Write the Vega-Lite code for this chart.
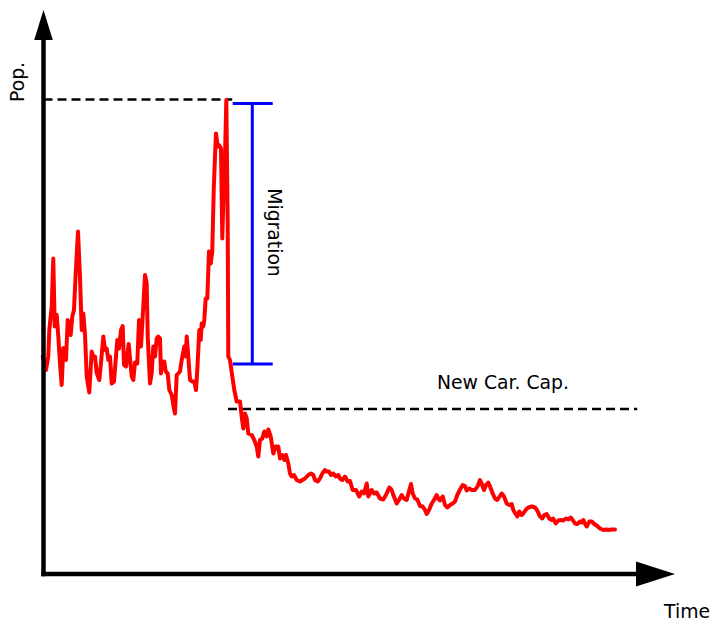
{
  "$schema": "https://vega.github.io/schema/vega-lite/v6.json",
  "width": 714,
  "height": 623,
  "padding": 0,
  "autosize": {"type": "fit", "contains": "padding"},
  "config": {"view": {"stroke": null}, "text": {"font": "DejaVu Sans", "fontSize": 18.8, "color": "#000000"}},
  "datasets": {
    "pop": [
      {"Time": 0.12, "Pop": 43.5}, {"Time": 0.67, "Pop": 40.8}, {"Time": 1.05, "Pop": 43.5}, {"Time": 1.22, "Pop": 48.8},
      {"Time": 1.62, "Pop": 53.5}, {"Time": 1.88, "Pop": 63.1}, {"Time": 2.12, "Pop": 49.5}, {"Time": 2.45, "Pop": 51.8},
      {"Time": 2.72, "Pop": 47.5}, {"Time": 3.0, "Pop": 42.2}, {"Time": 3.28, "Pop": 37.8}, {"Time": 3.55, "Pop": 45.2},
      {"Time": 3.83, "Pop": 44.5}, {"Time": 4.0, "Pop": 42.8}, {"Time": 4.28, "Pop": 50.8}, {"Time": 4.78, "Pop": 47.8},
      {"Time": 5.05, "Pop": 51.5}, {"Time": 5.33, "Pop": 52.8}, {"Time": 5.62, "Pop": 60.2}, {"Time": 6.0, "Pop": 68.5},
      {"Time": 6.33, "Pop": 59.5}, {"Time": 6.62, "Pop": 48.8}, {"Time": 6.88, "Pop": 52.1}, {"Time": 7.17, "Pop": 47.8},
      {"Time": 7.45, "Pop": 39.5}, {"Time": 7.88, "Pop": 36.3}, {"Time": 8.28, "Pop": 44.5}, {"Time": 8.55, "Pop": 43.5},
      {"Time": 8.83, "Pop": 43.5}, {"Time": 9.12, "Pop": 40.2}, {"Time": 9.55, "Pop": 38.8}, {"Time": 9.83, "Pop": 42.2},
      {"Time": 10.22, "Pop": 47.5}, {"Time": 10.5, "Pop": 44.8}, {"Time": 10.78, "Pop": 45.1}, {"Time": 11.05, "Pop": 42.8},
      {"Time": 11.33, "Pop": 43.5}, {"Time": 11.62, "Pop": 38.1}, {"Time": 12.0, "Pop": 38.5}, {"Time": 12.33, "Pop": 43.5},
      {"Time": 12.55, "Pop": 46.8}, {"Time": 12.83, "Pop": 45.1}, {"Time": 13.17, "Pop": 48.8}, {"Time": 13.45, "Pop": 49.6},
      {"Time": 13.67, "Pop": 41.8}, {"Time": 14.0, "Pop": 41.5}, {"Time": 14.45, "Pop": 46.0}, {"Time": 14.67, "Pop": 43.1},
      {"Time": 14.95, "Pop": 39.5}, {"Time": 15.22, "Pop": 38.8}, {"Time": 15.5, "Pop": 42.3}, {"Time": 15.88, "Pop": 42.1},
      {"Time": 16.17, "Pop": 50.8}, {"Time": 16.5, "Pop": 45.5}, {"Time": 16.72, "Pop": 50.1}, {"Time": 17.17, "Pop": 59.8},
      {"Time": 17.45, "Pop": 58.1}, {"Time": 17.62, "Pop": 47.5}, {"Time": 18.0, "Pop": 38.1}, {"Time": 18.28, "Pop": 40.1},
      {"Time": 18.55, "Pop": 45.5}, {"Time": 18.83, "Pop": 43.5}, {"Time": 19.12, "Pop": 47.1}, {"Time": 19.38, "Pop": 47.5},
      {"Time": 19.67, "Pop": 47.1}, {"Time": 19.83, "Pop": 40.1}, {"Time": 20.05, "Pop": 42.5}, {"Time": 20.38, "Pop": 42.5},
      {"Time": 20.62, "Pop": 40.5}, {"Time": 20.95, "Pop": 40.1}, {"Time": 21.22, "Pop": 36.8}, {"Time": 21.62, "Pop": 35.8},
      {"Time": 21.88, "Pop": 33.8}, {"Time": 22.17, "Pop": 32.1}, {"Time": 22.45, "Pop": 39.8}, {"Time": 23.0, "Pop": 40.5},
      {"Time": 23.28, "Pop": 42.8}, {"Time": 23.72, "Pop": 45.5}, {"Time": 23.95, "Pop": 43.5}, {"Time": 24.12, "Pop": 47.5},
      {"Time": 24.38, "Pop": 43.5}, {"Time": 24.67, "Pop": 38.8}, {"Time": 25.05, "Pop": 38.5}, {"Time": 25.38, "Pop": 38.5},
      {"Time": 25.67, "Pop": 36.8}, {"Time": 25.88, "Pop": 40.8}, {"Time": 26.22, "Pop": 48.8}, {"Time": 26.45, "Pop": 46.8},
      {"Time": 26.62, "Pop": 50.1}, {"Time": 26.88, "Pop": 49.5}, {"Time": 27.05, "Pop": 50.8}, {"Time": 27.28, "Pop": 55.1},
      {"Time": 27.55, "Pop": 55.1}, {"Time": 27.83, "Pop": 64.5}, {"Time": 28.12, "Pop": 62.1}, {"Time": 28.38, "Pop": 64.5},
      {"Time": 28.62, "Pop": 76.8}, {"Time": 28.83, "Pop": 83.5}, {"Time": 29.0, "Pop": 88.1}, {"Time": 29.28, "Pop": 85.5},
      {"Time": 29.5, "Pop": 85.8}, {"Time": 29.83, "Pop": 85.1}, {"Time": 30.05, "Pop": 67.1}, {"Time": 30.28, "Pop": 76.8},
      {"Time": 30.5, "Pop": 83.5}, {"Time": 30.72, "Pop": 94.8}, {"Time": 30.95, "Pop": 70.1}, {"Time": 31.05, "Pop": 43.5},
      {"Time": 31.33, "Pop": 42.8}, {"Time": 31.72, "Pop": 39.5}, {"Time": 32.05, "Pop": 36.8}, {"Time": 32.45, "Pop": 34.5},
      {"Time": 33.0, "Pop": 34.5}, {"Time": 33.28, "Pop": 31.5}, {"Time": 33.55, "Pop": 29.1}, {"Time": 33.83, "Pop": 32.1},
      {"Time": 34.12, "Pop": 31.1}, {"Time": 34.38, "Pop": 28.1}, {"Time": 34.95, "Pop": 27.8}, {"Time": 35.38, "Pop": 26.8},
      {"Time": 35.78, "Pop": 25.5}, {"Time": 36.05, "Pop": 23.5}, {"Time": 36.33, "Pop": 26.8}, {"Time": 36.72, "Pop": 27.1},
      {"Time": 37.05, "Pop": 28.5}, {"Time": 37.45, "Pop": 27.5}, {"Time": 37.72, "Pop": 28.9}, {"Time": 38.12, "Pop": 27.5},
      {"Time": 38.55, "Pop": 24.1}, {"Time": 38.95, "Pop": 25.5}, {"Time": 39.38, "Pop": 25.5}, {"Time": 39.67, "Pop": 23.1},
      {"Time": 40.05, "Pop": 23.8}, {"Time": 40.38, "Pop": 22.8}, {"Time": 40.67, "Pop": 23.8}, {"Time": 41.05, "Pop": 22.1},
      {"Time": 41.33, "Pop": 20.1}, {"Time": 41.62, "Pop": 19.5}, {"Time": 42.0, "Pop": 19.8}, {"Time": 42.45, "Pop": 18.8},
      {"Time": 43.0, "Pop": 18.5}, {"Time": 43.38, "Pop": 18.8}, {"Time": 43.83, "Pop": 19.1}, {"Time": 44.38, "Pop": 19.8},
      {"Time": 44.83, "Pop": 20.1}, {"Time": 45.22, "Pop": 19.8}, {"Time": 45.5, "Pop": 18.8}, {"Time": 45.95, "Pop": 18.5},
      {"Time": 46.33, "Pop": 19.1}, {"Time": 46.72, "Pop": 20.1}, {"Time": 47.17, "Pop": 20.8}, {"Time": 47.45, "Pop": 20.5},
      {"Time": 47.83, "Pop": 20.5}, {"Time": 48.17, "Pop": 19.8}, {"Time": 48.55, "Pop": 20.1}, {"Time": 48.95, "Pop": 19.5},
      {"Time": 49.38, "Pop": 19.8}, {"Time": 49.67, "Pop": 19.1}, {"Time": 50.05, "Pop": 18.8}, {"Time": 50.5, "Pop": 19.5},
      {"Time": 50.95, "Pop": 18.5}, {"Time": 51.33, "Pop": 18.6}, {"Time": 51.78, "Pop": 16.8}, {"Time": 52.33, "Pop": 16.8},
      {"Time": 52.88, "Pop": 15.5}, {"Time": 53.28, "Pop": 16.5}, {"Time": 53.67, "Pop": 16.1}, {"Time": 54.12, "Pop": 18.1},
      {"Time": 54.38, "Pop": 15.5}, {"Time": 54.95, "Pop": 16.8}, {"Time": 55.33, "Pop": 16.1}, {"Time": 55.78, "Pop": 16.3},
      {"Time": 56.33, "Pop": 15.1}, {"Time": 56.88, "Pop": 14.9}, {"Time": 57.33, "Pop": 15.8}, {"Time": 57.88, "Pop": 17.3},
      {"Time": 58.28, "Pop": 16.8}, {"Time": 58.55, "Pop": 15.8}, {"Time": 59.12, "Pop": 14.1}, {"Time": 59.55, "Pop": 14.9},
      {"Time": 59.95, "Pop": 15.8}, {"Time": 60.33, "Pop": 15.1}, {"Time": 60.78, "Pop": 14.8}, {"Time": 61.22, "Pop": 16.8},
      {"Time": 61.5, "Pop": 18.0}, {"Time": 61.78, "Pop": 16.1}, {"Time": 62.17, "Pop": 15.1}, {"Time": 62.55, "Pop": 14.9},
      {"Time": 63.0, "Pop": 13.6}, {"Time": 63.45, "Pop": 13.5}, {"Time": 63.83, "Pop": 12.8}, {"Time": 64.12, "Pop": 12.0},
      {"Time": 64.55, "Pop": 12.9}, {"Time": 64.95, "Pop": 14.1}, {"Time": 65.33, "Pop": 14.8}, {"Time": 65.78, "Pop": 15.8},
      {"Time": 66.05, "Pop": 15.1}, {"Time": 66.33, "Pop": 14.7}, {"Time": 66.78, "Pop": 15.5}, {"Time": 67.17, "Pop": 13.8},
      {"Time": 67.55, "Pop": 13.3}, {"Time": 68.0, "Pop": 13.8}, {"Time": 68.45, "Pop": 14.1}, {"Time": 68.83, "Pop": 14.5},
      {"Time": 69.22, "Pop": 15.8}, {"Time": 69.67, "Pop": 16.9}, {"Time": 70.12, "Pop": 17.8}, {"Time": 70.5, "Pop": 17.6},
      {"Time": 70.78, "Pop": 16.7}, {"Time": 71.22, "Pop": 17.1}, {"Time": 71.62, "Pop": 16.8}, {"Time": 72.17, "Pop": 16.8},
      {"Time": 72.62, "Pop": 17.6}, {"Time": 73.0, "Pop": 18.8}, {"Time": 73.28, "Pop": 18.1}, {"Time": 73.67, "Pop": 16.8},
      {"Time": 74.0, "Pop": 17.8}, {"Time": 74.38, "Pop": 18.3}, {"Time": 74.67, "Pop": 17.5}, {"Time": 75.12, "Pop": 16.1},
      {"Time": 75.5, "Pop": 15.1}, {"Time": 75.88, "Pop": 14.8}, {"Time": 76.33, "Pop": 15.6}, {"Time": 76.62, "Pop": 16.1},
      {"Time": 77.0, "Pop": 15.5}, {"Time": 77.45, "Pop": 14.1}, {"Time": 77.88, "Pop": 13.8}, {"Time": 78.28, "Pop": 14.0},
      {"Time": 78.55, "Pop": 12.8}, {"Time": 78.95, "Pop": 12.0}, {"Time": 79.22, "Pop": 11.5}, {"Time": 79.55, "Pop": 12.5},
      {"Time": 79.95, "Pop": 11.8}, {"Time": 80.22, "Pop": 12.1}, {"Time": 80.67, "Pop": 12.9}, {"Time": 81.05, "Pop": 13.3},
      {"Time": 81.62, "Pop": 13.5}, {"Time": 82.17, "Pop": 13.3}, {"Time": 82.55, "Pop": 12.7}, {"Time": 83.0, "Pop": 11.5},
      {"Time": 83.38, "Pop": 11.1}, {"Time": 83.72, "Pop": 11.8}, {"Time": 84.12, "Pop": 12.0}, {"Time": 84.55, "Pop": 11.1},
      {"Time": 84.95, "Pop": 10.8}, {"Time": 85.22, "Pop": 11.1}, {"Time": 85.62, "Pop": 10.1}, {"Time": 86.05, "Pop": 10.7},
      {"Time": 86.5, "Pop": 10.8}, {"Time": 86.88, "Pop": 10.7}, {"Time": 87.33, "Pop": 11.1}, {"Time": 87.72, "Pop": 10.9},
      {"Time": 88.12, "Pop": 11.3}, {"Time": 88.45, "Pop": 10.8}, {"Time": 88.83, "Pop": 10.1}, {"Time": 89.22, "Pop": 10.0},
      {"Time": 89.67, "Pop": 10.5}, {"Time": 89.95, "Pop": 10.3}, {"Time": 90.22, "Pop": 10.8}, {"Time": 90.5, "Pop": 10.0},
      {"Time": 90.78, "Pop": 9.5}, {"Time": 91.22, "Pop": 10.5}, {"Time": 91.62, "Pop": 10.5}, {"Time": 92.05, "Pop": 10.0},
      {"Time": 92.55, "Pop": 9.6}, {"Time": 93.0, "Pop": 9.1}, {"Time": 93.55, "Pop": 8.8}, {"Time": 94.0, "Pop": 8.9},
      {"Time": 94.38, "Pop": 8.8}, {"Time": 94.95, "Pop": 8.9}, {"Time": 95.5, "Pop": 8.9}
    ],
    "axes": [
      {"x0": 0.25, "x1": 0.25, "y0": -0.45, "y1": 107.0},
      {"x0": -0.1, "x1": 99.5, "y0": 0, "y1": 0}
    ],
    "levels": [
      {"x0": 0.25, "x1": 31.7, "y": 94.9},
      {"x0": 31.0, "x1": 99.2, "y": 33.0}
    ],
    "migration_span": [{"x": 35.05, "y0": 42.0, "y1": 94.1}],
    "migration_caps": [
      {"x0": 31.78, "x1": 38.45, "y": 94.1},
      {"x0": 31.78, "x1": 38.45, "y": 42.0}
    ],
    "arrow_x": [{"x": 102.25, "y": 0}],
    "arrow_y": [{"x": 0.25, "y": 109.8}],
    "label_h": [
      {"x": 107.5, "y": -8.8, "label": "Time"},
      {"x": 76.83, "y": 37.0, "label": "New Car. Cap."}
    ],
    "label_pop": [{"x": -3.92, "y": 98.4, "label": "Pop."}],
    "label_mig": [{"x": 38.67, "y": 68.3, "label": "Migration"}]
  },
  "layer": [
    {
      "data": {"name": "levels"},
      "mark": {"type": "rule", "color": "#000000", "strokeWidth": 2.5, "strokeDash": [9, 5]},
      "encoding": {
        "x": {"field": "x0", "type": "quantitative", "scale": {"domain": [-7, 112], "nice": false, "zero": false}, "axis": null},
        "x2": {"field": "x1"},
        "y": {"field": "y", "type": "quantitative", "scale": {"domain": [-9.8, 114.8], "nice": false, "zero": false}, "axis": null}
      }
    },
    {
      "data": {"name": "pop"},
      "mark": {"type": "line", "color": "#ff0000", "strokeWidth": 4, "strokeJoin": "round", "strokeCap": "round"},
      "encoding": {
        "x": {"field": "Time", "type": "quantitative", "axis": null},
        "y": {"field": "Pop", "type": "quantitative", "axis": null}
      }
    },
    {
      "data": {"name": "migration_span"},
      "mark": {"type": "rule", "color": "#0000ff", "strokeWidth": 3},
      "encoding": {
        "x": {"field": "x", "type": "quantitative", "axis": null},
        "y": {"field": "y0", "type": "quantitative", "axis": null},
        "y2": {"field": "y1"}
      }
    },
    {
      "data": {"name": "migration_caps"},
      "mark": {"type": "rule", "color": "#0000ff", "strokeWidth": 3},
      "encoding": {
        "x": {"field": "x0", "type": "quantitative", "axis": null},
        "x2": {"field": "x1"},
        "y": {"field": "y", "type": "quantitative", "axis": null}
      }
    },
    {
      "data": {"name": "axes"},
      "mark": {"type": "rule", "color": "#000000", "strokeWidth": 4.5},
      "encoding": {
        "x": {"field": "x0", "type": "quantitative", "axis": null},
        "x2": {"field": "x1"},
        "y": {"field": "y0", "type": "quantitative", "axis": null},
        "y2": {"field": "y1"}
      }
    },
    {
      "data": {"name": "arrow_x"},
      "mark": {"type": "point", "shape": "M-1,-0.64L1,0L-1,0.64Z", "size": 1521, "filled": true, "color": "#000000", "opacity": 1},
      "encoding": {
        "x": {"field": "x", "type": "quantitative", "axis": null},
        "y": {"field": "y", "type": "quantitative", "axis": null}
      }
    },
    {
      "data": {"name": "arrow_y"},
      "mark": {"type": "point", "shape": "M-0.62,1L0,-1L0.62,1Z", "size": 900, "filled": true, "color": "#000000", "opacity": 1},
      "encoding": {
        "x": {"field": "x", "type": "quantitative", "axis": null},
        "y": {"field": "y", "type": "quantitative", "axis": null}
      }
    },
    {
      "data": {"name": "label_h"},
      "mark": {"type": "text", "align": "center", "baseline": "alphabetic"},
      "encoding": {
        "x": {"field": "x", "type": "quantitative", "axis": null},
        "y": {"field": "y", "type": "quantitative", "axis": null},
        "text": {"field": "label"}
      }
    },
    {
      "data": {"name": "label_pop"},
      "mark": {"type": "text", "align": "center", "baseline": "middle", "angle": 270},
      "encoding": {
        "x": {"field": "x", "type": "quantitative", "axis": null},
        "y": {"field": "y", "type": "quantitative", "axis": null},
        "text": {"field": "label"}
      }
    },
    {
      "data": {"name": "label_mig"},
      "mark": {"type": "text", "align": "center", "baseline": "middle", "angle": 90},
      "encoding": {
        "x": {"field": "x", "type": "quantitative", "axis": null},
        "y": {"field": "y", "type": "quantitative", "axis": null},
        "text": {"field": "label"}
      }
    }
  ]
}
